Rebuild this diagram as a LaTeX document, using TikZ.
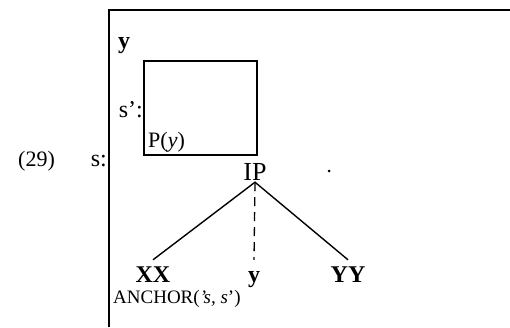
\documentclass[tikz,border=0pt]{standalone}
\usepackage{fontspec}
\setmainfont{Liberation Serif}
\begin{document}
\begin{tikzpicture}[x=1pt,y=-1pt,
    big/.style={inner sep=0pt, font=\fontsize{24}{28}\selectfont},
    small/.style={inner sep=0pt, font=\fontsize{19}{23}\selectfont},
    leaf/.style={big, font=\fontsize{24}{28}\selectfont\bfseries, text height=16pt, text depth=3pt, inner ysep=6pt},
    frameline/.style={draw=black, line width=1.4pt},
    branch/.style={draw=black, line width=1.4pt},
    trace/.style={draw=black, line width=1.3pt, dash pattern=on 9pt off 6pt}]
    \useasboundingbox (0,0) rectangle (510,327);
    %%% Outer box, only top and left sides show
    \draw[frameline] (109,327) -- (109,10) -- (510,10);
    %%% Inner box
    \draw[frameline] (144,61) rectangle (257,155);
    %%% Labels at the frames
    \node[big, anchor=base west, font=\fontsize{22}{26}\selectfont] (num) at (18,166) {(29)};
    \node[big, anchor=base east] (sout) at (107,166) {s:};
    \node[big, anchor=base east] (sin) at (143,117) {s':};
    \node[big, anchor=base, font=\fontsize{24}{28}\selectfont\bfseries] (ytop) at (124,48) {y};
    \node[small, anchor=base west, font=\fontsize{22}{26}\selectfont] (pred) at (148,147) {P(\textit{y})};
    %%% Tree
    \node[big, anchor=base, text depth=0pt, inner ysep=2pt, font=\fontsize{26}{30}\selectfont] (ip) at (255,180) {IP};
    \node[leaf, anchor=base] (xx) at (153,282) {XX};
    \node[leaf, anchor=base] (yleaf) at (254,282) {y};
    \node[leaf, anchor=base] (yy) at (348,282) {YY};
    \draw[branch] (xx.north) -- (ip.south) -- (yy.north);
    \draw[trace] (ip.south) -- (yleaf.north);
    \node[small, anchor=base west] (anch) at (113,303) {ANCHOR(\textit{'s, s}')};
    %%% speck right of IP
    \fill (329,171) circle (1.5pt);
\end{tikzpicture}
\end{document}
